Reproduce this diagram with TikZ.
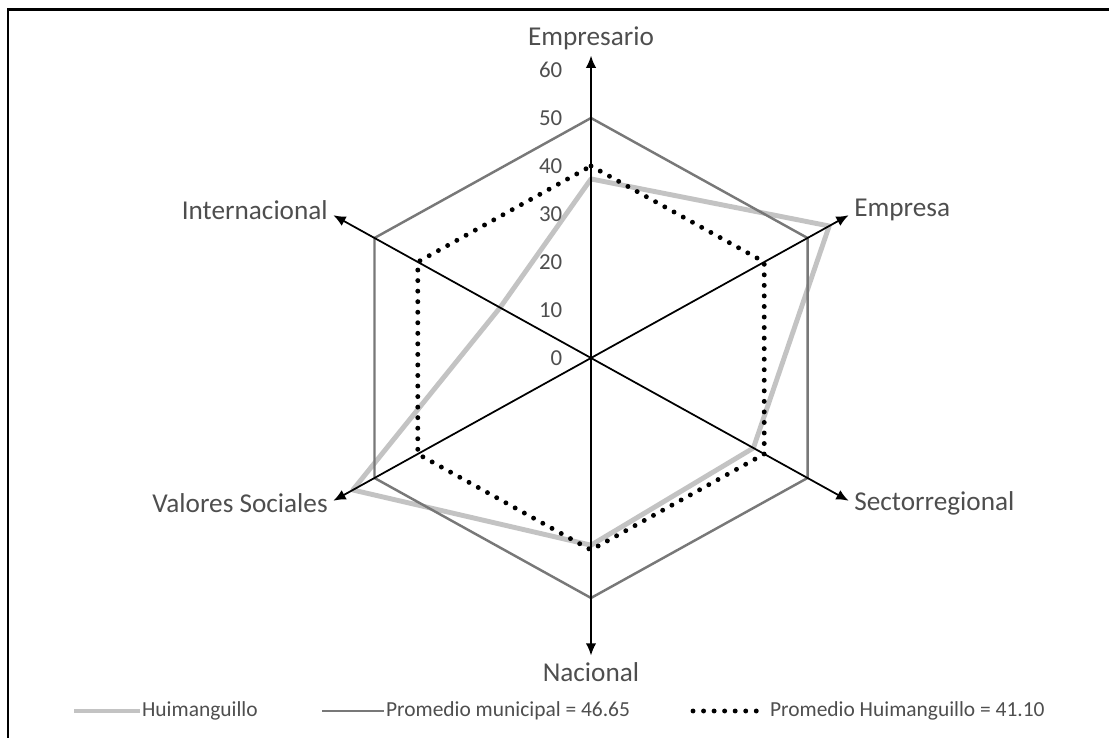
\documentclass[tikz,border=0pt]{standalone}
\usepackage{fontspec}
\setmainfont{Carlito}
\usetikzlibrary{positioning,arrows.meta}
\definecolor{txtclr}{RGB}{78,78,78}
\definecolor{huimclr}{RGB}{195,195,195}
\definecolor{municlr}{RGB}{120,120,120}
\tikzset{ %
  ,>={Latex[length=7pt,width=6pt]}
  ,axislbl/.style={text=txtclr, font=\fontsize{15.5}{18}\selectfont, inner sep=1pt}
  ,ticklbl/.style={text=txtclr, font=\fontsize{13}{15}\selectfont, inner sep=0, anchor=east}
  ,legendlbl/.style={text=txtclr, font=\fontsize{12.2}{14}\selectfont, inner sep=1pt, anchor=west}
  ,axisline/.style={line width=1pt, ->}
  ,huim/.style={huimclr, line width=2.8pt, line join=round}
  ,muni/.style={municlr, line width=1.4pt, line join=miter}
  ,prom/.style={black, line width=2.8pt, dash pattern=on 0pt off 6pt, line cap=round}
}
\begin{document}
\begin{tikzpicture}
  \useasboundingbox (0,0) rectangle (22.18,14.76);
  \draw[line width=1.7pt] (0.16,0) -- (0.16,14.56) -- (22.18,14.56);
  \begin{scope}[shift={(11.82,7.60)}, x=0.1cm, y=0.096cm]
    \coordinate (O) at (0,0);
    \coordinate (axEs) at (90:63);
    \coordinate (axEm) at (30:59.5);
    \coordinate (axSr) at (-30:59.5);
    \coordinate (axNa) at (-90:62);
    \coordinate (axVs) at (-150:59.5);
    \coordinate (axIn) at (150:59.5);
    \draw[huim] (90:37.3) -- (30:55) -- (-30:37.5) -- (-90:39) -- (-150:55) -- (150:21) -- cycle;
    \draw[muni] (90:50) \foreach \a in {30,-30,-90,-150,150} { -- (\a:50) } -- cycle;
    \draw[prom] (90:40) \foreach \a in {30,-30,-90,-150,150} { -- (\a:40) } -- cycle;
    \foreach \ax in {axEs,axEm,axSr,axNa,axVs,axIn}
      \draw[axisline] (O) -- (\ax);
    \foreach \v in {0,10,...,60}
      \node[ticklbl] (t\v) at (-5.7,\v) {\v};
    \node[axislbl, above=2pt of axEs] (Emp) {Empresario};
    \node[axislbl, right=2pt of axEm, yshift=3pt] (Ema) {Empresa};
    \node[axislbl, right=2pt of axSr, yshift=-1.5pt] (Sec) {Sectorregional};
    \node[axislbl, below=3pt of axNa] (Nac) {Nacional};
    \node[axislbl, left=2pt of axVs, yshift=-1.5pt] (Val) {Valores Sociales};
    \node[axislbl, left=2pt of axIn, yshift=3pt] (Int) {Internacional};
  \end{scope}
  \coordinate (lgA) at (1.48,0.54);
  \coordinate (lgB) at (6.44,0.54);
  \coordinate (lgC) at (13.86,0.54);
  \node[legendlbl] (lgAtxt) at (2.80,0.54) {Huimanguillo};
  \node[legendlbl] (lgBtxt) at (7.68,0.54) {Promedio municipal = 46.65};
  \node[legendlbl] (lgCtxt) at (15.36,0.54) {Promedio Huimanguillo = 41.10};
  \draw[huim] (lgA) -- (lgAtxt.west);
  \draw[muni] (lgB) -- (lgBtxt.west);
  \draw[prom] (lgC) -- ([xshift=-4pt]lgCtxt.west);
\end{tikzpicture}
\end{document}
